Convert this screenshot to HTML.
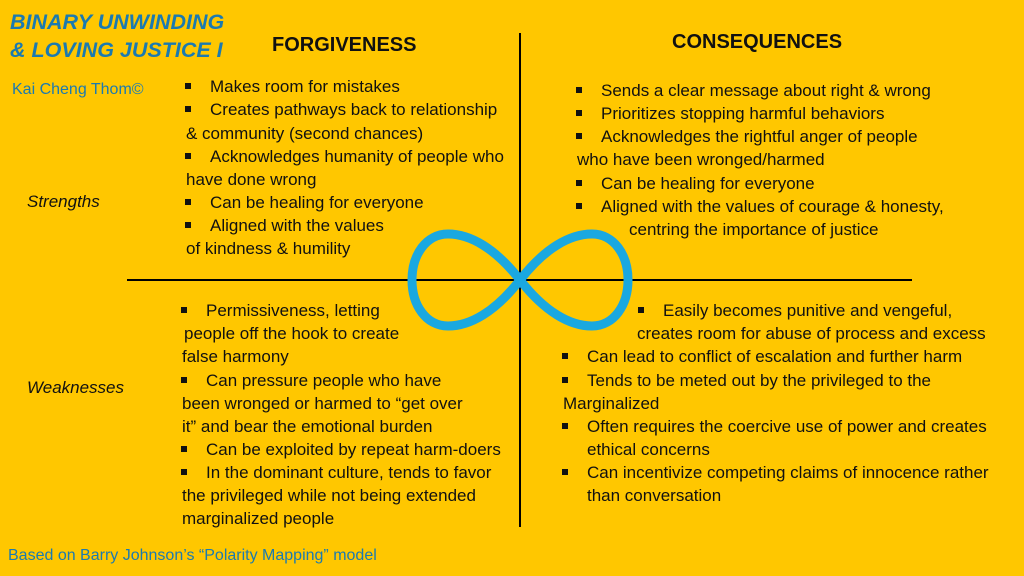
<!DOCTYPE html>
<html><head><meta charset="utf-8"><style>
body{margin:0;width:1024px;height:576px;overflow:hidden;background:#FFC700;font-family:"Liberation Sans",sans-serif;position:relative}
.t{position:absolute;white-space:nowrap;font-size:17px;color:#111;line-height:19px}
.b::before{content:"";position:absolute;left:-25px;top:6px;width:6px;height:6px;background:#111}
.h{font-weight:bold;font-size:20px}
.ttl{color:#1b7ab0;font-weight:bold;font-style:italic;font-size:21.5px}
.i{font-style:italic;font-size:17px}
</style></head><body>
<div style="position:absolute;left:519px;top:33px;width:2px;height:494px;background:#000"></div>
<div style="position:absolute;left:127px;top:279px;width:785px;height:2px;background:#000"></div>
<svg style="position:absolute;left:0;top:0" width="1024" height="576"><path d="M520 280 C545 248 570 234 592 234 C614 234 628 255 628 280 C628 305 614 326 592 326 C570 326 545 312 520 280 C495 248 470 234 448 234 C426 234 412 255 412 280 C412 305 426 326 448 326 C470 326 495 312 520 280 Z" fill="none" stroke="#1aa8e0" stroke-width="9"/></svg>
<div class="t ttl" style="left:10px;top:13px">BINARY UNWINDING</div>
<div class="t ttl" style="left:10px;top:41px">&amp; LOVING JUSTICE I</div>
<div class="t" style="left:12px;top:80px;color:#1b7ab0;font-size:16px">Kai Cheng Thom©</div>
<div class="t h" style="left:272px;top:36px">FORGIVENESS</div>
<div class="t h" style="left:672px;top:33px">CONSEQUENCES</div>
<div class="t i" style="left:27px;top:192px">Strengths</div>
<div class="t i" style="left:27px;top:378px">Weaknesses</div>
<div class="t b" style="left:210px;top:77px">Makes room for mistakes</div>
<div class="t b" style="left:210px;top:100px">Creates pathways back to relationship</div>
<div class="t" style="left:186px;top:124px">&amp; community (second chances)</div>
<div class="t b" style="left:210px;top:147px">Acknowledges humanity of people who</div>
<div class="t" style="left:186px;top:170px">have done wrong</div>
<div class="t b" style="left:210px;top:193px">Can be healing for everyone</div>
<div class="t b" style="left:210px;top:216px">Aligned with the values</div>
<div class="t" style="left:186px;top:239px">of kindness &amp; humility</div>
<div class="t b" style="left:601px;top:81px">Sends a clear message about right &amp; wrong</div>
<div class="t b" style="left:601px;top:104px">Prioritizes stopping harmful behaviors</div>
<div class="t b" style="left:601px;top:127px">Acknowledges the rightful anger of people</div>
<div class="t" style="left:577px;top:150px">who have been wronged/harmed</div>
<div class="t b" style="left:601px;top:174px">Can be healing for everyone</div>
<div class="t b" style="left:601px;top:197px">Aligned with the values of courage &amp; honesty,</div>
<div class="t" style="left:629px;top:220px">centring the importance of justice</div>
<div class="t b" style="left:206px;top:301px">Permissiveness, letting</div>
<div class="t" style="left:184px;top:324px">people off the hook to create</div>
<div class="t" style="left:182px;top:347px">false harmony</div>
<div class="t b" style="left:206px;top:371px">Can pressure people who have</div>
<div class="t" style="left:182px;top:394px">been wronged or harmed to “get over</div>
<div class="t" style="left:182px;top:417px">it” and bear the emotional burden</div>
<div class="t b" style="left:206px;top:440px">Can be exploited by repeat harm-doers</div>
<div class="t b" style="left:206px;top:463px">In the dominant culture, tends to favor</div>
<div class="t" style="left:182px;top:486px">the privileged while not being extended</div>
<div class="t" style="left:182px;top:509px">marginalized people</div>
<div class="t b" style="left:663px;top:301px">Easily becomes punitive and vengeful,</div>
<div class="t" style="left:637px;top:324px">creates room for abuse of process and excess</div>
<div class="t b" style="left:587px;top:347px">Can lead to conflict of escalation and further harm</div>
<div class="t b" style="left:587px;top:371px">Tends to be meted out by the privileged to the</div>
<div class="t" style="left:563px;top:394px">Marginalized</div>
<div class="t b" style="left:587px;top:417px">Often requires the coercive use of power and creates</div>
<div class="t" style="left:587px;top:440px">ethical concerns</div>
<div class="t b" style="left:587px;top:463px">Can incentivize competing claims of innocence rather</div>
<div class="t" style="left:587px;top:486px">than conversation</div>
<div class="t" style="left:8px;top:546px;color:#1b7ab0;font-size:16px">Based on Barry Johnson’s “Polarity Mapping” model</div>
</body></html>
